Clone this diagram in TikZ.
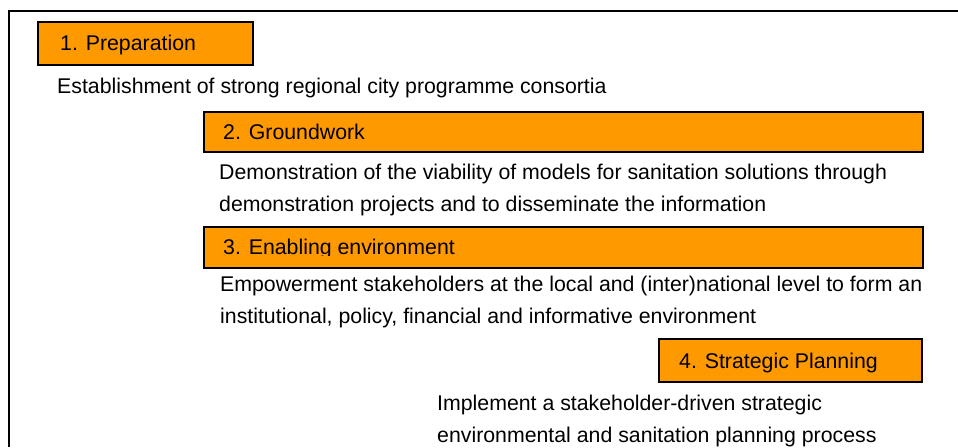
\documentclass[tikz,border=0pt]{standalone}
\usepackage{fontspec}
\setmainfont{Liberation Sans}
\definecolor{phaseorange}{RGB}{255,153,0}
\begin{document}
\begin{tikzpicture}[x=1pt,y=-1pt,
  phase/.style={draw=black, line width=1.6pt, fill=phaseorange, anchor=north west, inner sep=0pt},
  txt/.style={anchor=base west, inner sep=0pt, text=black, font=\fontsize{21.3}{25}\selectfont},
  frame/.style={draw=black, line width=2pt}]
\useasboundingbox (0,0) rectangle (958,447);
% outer frame (only top and left edges fall inside the page)
\draw[frame] (9,447) -- (9,11) -- (958,11);

% phase boxes
\node[phase, minimum width=215pt, minimum height=43pt] (p1) at (37,21) {};
\node[phase, minimum width=719pt, minimum height=40pt] (p2) at (203,111) {};
\node[phase, minimum width=719pt, minimum height=41pt] (p3) at (203,226) {};
\node[phase, minimum width=263pt, minimum height=43pt] (p4) at (658,338) {};

% phase titles
\node[txt] (t1) at (60,50) {1. Preparation};
\node[txt] (t2) at (223,139) {2. Groundwork};
\begin{scope}
  \clip (0,200) rectangle (958,255);
  \node[txt] (t3) at (223,254) {3. Enabling environment};
\end{scope}
\node[txt] (t4) at (679,368) {4. Strategic Planning};

% descriptions
\begin{scope}
  \clip (0,60) rectangle (958,97);
  \node[txt] (d1) at (57,93.5) {Establishment of strong regional city programme consortia};
\end{scope}
\node[txt] (d2a) at (219,179) {Demonstration of the viability of models for sanitation solutions through};
\node[txt] (d2b) at (219,211) {demonstration projects and to disseminate the information};
\node[txt] (d3a) at (220,291) {Empowerment stakeholders at the local and (inter)national level to form an};
\node[txt] (d3b) at (220,323) {institutional, policy, financial and informative environment};
\node[txt] (d4a) at (437,410) {Implement a stakeholder-driven strategic};
\node[txt] (d4b) at (437,442) {environmental and sanitation planning process};
\end{tikzpicture}
\end{document}
